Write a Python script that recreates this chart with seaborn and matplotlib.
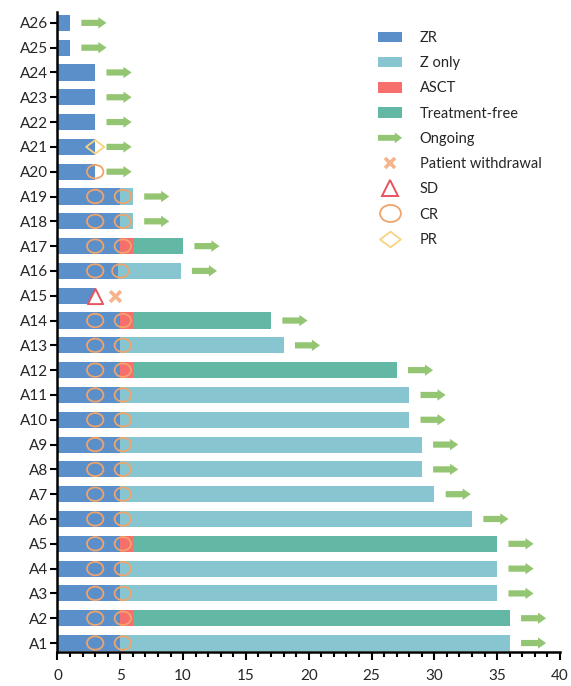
import numpy as np
import pandas as pd
import matplotlib
matplotlib.use("Agg")
import matplotlib.pyplot as plt
import matplotlib.patches as mpatches
from matplotlib.lines import Line2D
from matplotlib.path import Path
from matplotlib.legend_handler import HandlerPatch
from matplotlib.ticker import MultipleLocator
import seaborn as sns

nan = np.nan

# Patients and treatment timeline (months)
patients = [f"A{i}" for i in range(1, 27)]
zr_end = [5, 5, 5, 5, 5, 5, 5, 5, 5, 5, 5, 5, 5, 5, 3, 4.8, 5, 5, 5, 3, 3, 3, 3, 3, 1, 1]
asct_end = [nan, 6, nan, nan, 6, nan, nan, nan, nan, nan, nan, 6, nan, 6,
            nan, nan, 6, nan, nan, nan, nan, nan, nan, nan, nan, nan]
zonly_end = [36, nan, 35, 35, nan, 33, 30, 29, 29, 28, 28, nan, 18, nan,
             nan, 9.8, nan, 6, 6, nan, nan, nan, nan, nan, nan, nan]
tfree_end = [nan, 36, nan, nan, 35, nan, nan, nan, nan, nan, nan, 27, nan, 17,
             nan, nan, 10, nan, nan, nan, nan, nan, nan, nan, nan, nan]
ongoing = ["A1", "A2", "A3", "A4", "A5", "A6", "A7", "A8", "A9", "A10", "A11", "A12",
           "A13", "A14", "A16", "A17", "A18", "A19", "A20", "A21", "A22", "A23",
           "A24", "A25", "A26"]

# Response assessments
cr_patients = ["A1", "A2", "A3", "A4", "A5", "A6", "A7", "A8", "A9", "A10", "A11", "A12",
               "A13", "A14", "A16", "A17", "A18", "A19", "A20",
               "A1", "A2", "A3", "A4", "A5", "A6", "A7", "A8", "A9", "A10", "A11", "A12",
               "A13", "A14", "A16", "A17", "A18", "A19"]
cr_time = [3] * 19 + [5.2] * 14 + [5.0, 5.2, 5.2, 5.2]
sd_patients = ["A15"]
sd_time = [3]
pr_patients = ["A21"]
pr_time = [3]
withdrawal_patients = ["A15"]
withdrawal_time = [4.6]

C_ZR = "#5b8fc9"
C_Z = "#87c6d1"
C_ASCT = "#f66f6d"
C_TF = "#62b8a5"
C_ARROW = "#93c572"
C_WD = "#f5b58c"
C_SD = "#e8535f"
C_CR = "#eea46c"
C_PR = "#f8d47f"

sns.set_theme(style="ticks")
plt.rcParams["font.family"] = ["Lato", "DejaVu Sans"]

fig = plt.figure(figsize=(5.71, 6.86), dpi=100)
ax = fig.add_axes([0.1007, 0.0496, 0.880, 0.933])

order = patients[::-1]
pos = {p: i for i, p in enumerate(order)}

# Stacked bars drawn as overlapping layers from the longest phase down
layers = [(zonly_end, C_Z), (tfree_end, C_TF), (asct_end, C_ASCT), (zr_end, C_ZR)]
for values, col in layers:
    df = pd.DataFrame({"patient": patients, "end": values}).dropna()
    sns.barplot(data=df, x="end", y="patient", order=order, orient="h",
                color=col, saturation=1, width=0.65, linewidth=0,
                errorbar=None, ax=ax)

# Ongoing arrows after the last phase
total_end = [np.nanmax([a, b, c, d]) for a, b, c, d in zip(zr_end, asct_end, zonly_end, tfree_end)]
end_of = dict(zip(patients, total_end))
for p in ongoing:
    ax.arrow(end_of[p] + 0.9, pos[p], 2.0, 0, width=0.25, head_width=0.46,
             head_length=0.65, length_includes_head=True, color=C_ARROW,
             linewidth=0, zorder=3)

# Response markers
circ = Path.unit_circle()
ellipse = Path(circ.vertices * np.array([1.0, 0.82]), circ.codes)
diamond = Path([(-1, 0), (0, 0.75), (1, 0), (0, -0.75), (-1, 0)],
               [Path.MOVETO, Path.LINETO, Path.LINETO, Path.LINETO, Path.CLOSEPOLY])

sns.scatterplot(x=cr_time, y=[pos[p] for p in cr_patients], marker=ellipse, s=140,
                facecolor="none", edgecolor=C_CR, linewidth=1.3, ax=ax, zorder=4)
sns.scatterplot(x=sd_time, y=[pos[p] for p in sd_patients], marker="^", s=120,
                facecolor="white", edgecolor=C_SD, linewidth=1.4, ax=ax, zorder=4)
sns.scatterplot(x=pr_time, y=[pos[p] for p in pr_patients], marker=diamond,
                s=170, facecolor="none", edgecolor=C_PR, linewidth=1.3, ax=ax, zorder=4)
sns.scatterplot(x=withdrawal_time, y=[pos[p] for p in withdrawal_patients], marker="x",
                s=60, color=C_WD, linewidth=2.6, ax=ax, zorder=4)

ax.set_xlim(0, 40)
ax.set_ylim(25.36, -0.44)
ax.set_xlabel("")
ax.set_ylabel("")
ax.xaxis.set_major_locator(MultipleLocator(5))
ax.xaxis.set_minor_locator(MultipleLocator(1))
sns.despine(ax=ax)
for s in ("left", "bottom"):
    ax.spines[s].set_linewidth(1.8)
    ax.spines[s].set_color("black")
ax.tick_params(axis="x", which="major", length=6, width=1.5, color="black",
               labelsize=11, pad=6)
ax.tick_params(axis="x", which="minor", length=3.5, width=1.5, color="black")
ax.tick_params(axis="y", which="major", length=5, width=1.5, color="black",
               labelsize=11, pad=2)


def make_arrow(legend, orig_handle, xdescent, ydescent, width, height, fontsize):
    return mpatches.FancyArrow(-xdescent, -ydescent + height / 2, width, 0,
                               width=height * 0.55, head_width=height,
                               head_length=width * 0.3, length_includes_head=True)


arrow_handle = mpatches.Patch(color=C_ARROW, linewidth=0, label="Ongoing")
handles = [
    mpatches.Patch(color=C_ZR, linewidth=0, label="ZR"),
    mpatches.Patch(color=C_Z, linewidth=0, label="Z only"),
    mpatches.Patch(color=C_ASCT, linewidth=0, label="ASCT"),
    mpatches.Patch(color=C_TF, linewidth=0, label="Treatment-free"),
    arrow_handle,
    Line2D([], [], ls="none", marker="x", ms=7, mew=2.6, color=C_WD, label="Patient withdrawal"),
    Line2D([], [], ls="none", marker="^", ms=12, mew=1.4, mfc="white", mec=C_SD, label="SD"),
    Line2D([], [], ls="none", marker=ellipse, ms=15, mew=1.3, mfc="none", mec=C_CR, label="CR"),
    Line2D([], [], ls="none", marker=diamond, ms=15, mew=1.3, mfc="none", mec=C_PR, label="PR"),
]
fig.legend(handles=handles, loc="upper left", bbox_to_anchor=(378 / 571, 1 - 31 / 686),
           frameon=False, fontsize=10.5, handlelength=1.65, handleheight=0.75,
           handletextpad=1.2, labelspacing=0.77, borderpad=0, borderaxespad=0,
           handler_map={arrow_handle: HandlerPatch(patch_func=make_arrow)})

fig.savefig("out.png", dpi=100)
